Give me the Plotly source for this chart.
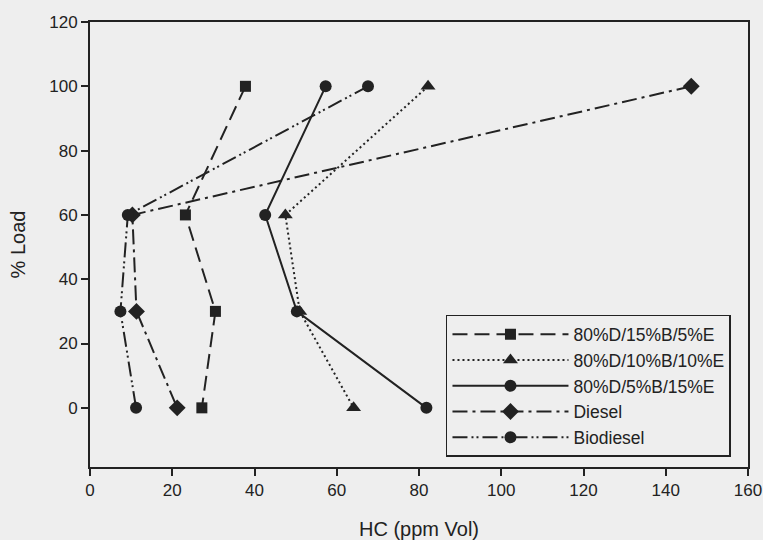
import plotly.graph_objects as go

load = [100, 60, 30, 0]
hc_15b_5e = [37.8, 23.2, 30.5, 27.2]
hc_10b_10e = [82.2, 47.5, 51.0, 64.1]
hc_5b_15e = [57.3, 42.6, 50.3, 81.8]
hc_diesel = [146.2, 10.3, 11.3, 21.2]
hc_biodiesel = [67.6, 9.2, 7.4, 11.2]

series_names = ["80%D/15%B/5%E", "80%D/10%B/10%E", "80%D/5%B/15%E", "Diesel", "Biodiesel"]
x_ticks = [0, 20, 40, 60, 80, 100, 120, 140, 160]
y_ticks = [0, 20, 40, 60, 80, 100, 120]

INK = "#222222"
BG = "#eeeeee"
FONT = "Liberation Sans, Arial, sans-serif"

styles = [
    (hc_15b_5e, "square", "15px,7px", 11),
    (hc_10b_10e, "triangle-up", "2px,3px", 13),
    (hc_5b_15e, "circle", "solid", 12),
    (hc_diesel, "diamond", "15px,5px,3px,5px", 13),
    (hc_biodiesel, "circle", "15px,4px,2px,3px,2px,4px", 12),
]

fig = go.Figure()
for name, (xs, sym, dash, ms) in zip(series_names, styles):
    fig.add_trace(go.Scatter(
        x=xs, y=load, name=name, mode="lines+markers",
        line=dict(color=INK, width=2, dash=dash),
        marker=dict(symbol=sym, size=ms, color=INK),
    ))

axis_common = dict(
    showgrid=False, zeroline=False, showline=True, linecolor=INK, linewidth=2,
    mirror=True, ticks="outside", ticklen=7, tickwidth=1.5, tickcolor=INK,
    tickfont=dict(family=FONT, size=17, color=INK), automargin=False,
)

fig.update_layout(
    width=763, height=540,
    margin=dict(l=90, r=15, t=22, b=73),
    paper_bgcolor=BG, plot_bgcolor=BG,
    font=dict(family=FONT, size=17, color=INK),
    xaxis=dict(range=[0, 160], tickvals=x_ticks,
               title=dict(text="HC (ppm Vol)", font=dict(size=20), standoff=26),
               **axis_common),
    yaxis=dict(range=[-18.4, 120], tickvals=y_ticks,
               title=dict(text="% Load", font=dict(size=20), standoff=18),
               **axis_common),
    legend=dict(
        x=0.541, y=0.342, xanchor="left", yanchor="top",
        bgcolor=BG, bordercolor=INK, borderwidth=1.5,
        font=dict(family=FONT, size=17.5, color=INK), itemwidth=116,
        tracegroupgap=0,
    ),
    showlegend=True,
)

fig.write_html("out.html")
